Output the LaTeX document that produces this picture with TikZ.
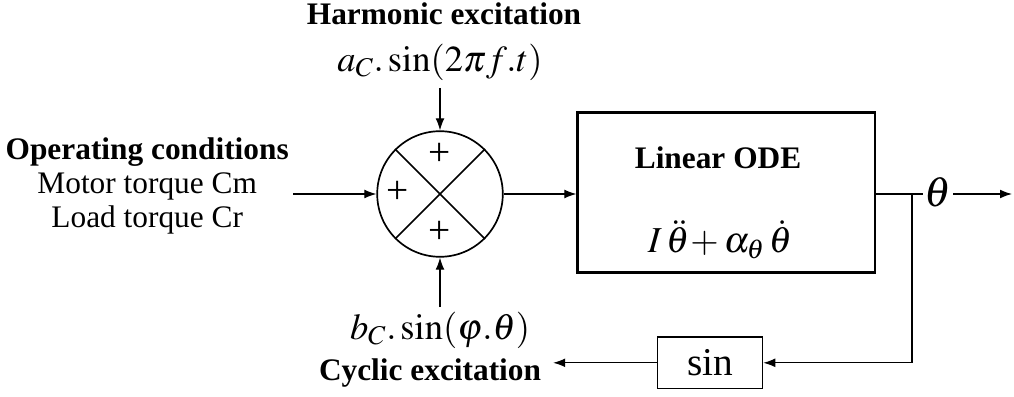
\documentclass[tikz,border=0pt]{standalone}
\usepackage{mathptmx}
\usepackage{fontspec}
\setmainfont{Liberation Serif}
\usepackage{tikz}
\usetikzlibrary{arrows.meta, positioning, calc}
\tikzset{
  txt/.style={font=\fontsize{22.3}{24.5}\selectfont, inner sep=1pt},
  boldtxt/.style={font=\fontsize{22.3}{24.5}\selectfont\bfseries, inner sep=1pt},
  mathtxt/.style={font=\fontsize{26}{28}\selectfont, inner sep=1pt},
  plus/.style={font=\fontsize{28}{30}\selectfont, inner sep=0pt},
  sig/.style={draw, line width=0.8pt, -{Latex[length=3mm, width=2.2mm]}},
}
\begin{document}
\begin{tikzpicture}
  \useasboundingbox (0,0) rectangle (25.35,9.9);
  % summing junction
  \node[draw, circle, line width=1.2pt, minimum size=3.14cm, inner sep=0pt] (sum) at (11.0,5.05) {};
  \draw[line width=1.2pt] (sum.45) -- (sum.225);
  \draw[line width=1.2pt] (sum.135) -- (sum.315);
  \node[plus] (ptop) at (11.0,6.05) {+};
  \node[plus] (pleft) at (9.95,5.1) {+};
  \node[plus] (pbot) at (11.0,4.1) {+};
  % harmonic input
  \node[boldtxt] (harm) at (11.1,9.55) {Harmonic excitation};
  \node[mathtxt] (aterm) at (11.0,8.35) {$a_{C}.\sin(2\pi f.t)$};
  \coordinate (atop) at (11.0,7.7);
  \draw[sig] (atop) -- (sum.north);
  % operating conditions
  \node[txt, align=center] (opcond) at (3.68,5.25)
    {\bfseries Operating conditions\\Motor torque Cm\\Load torque Cr};
  \coordinate (opin) at (7.33,5.05);
  \draw[sig] (opin) -- (sum.west);
  % linear ODE block
  \node[draw, line width=2pt, minimum width=7.43cm, minimum height=4cm] (ode) at (18.16,5.08) {};
  \node[boldtxt] (odetitle) at (17.95,5.95) {Linear ODE};
  \node[mathtxt] (odeeq) at (18.0,3.9) {$I\,\ddot{\theta}\!+\alpha_{\theta}\,\dot{\theta}$};
  \draw[sig] (sum.east) -- (ode.west |- sum.east);
  % output
  \node[font=\fontsize{30}{32}\selectfont, inner sep=1pt] (theta) at (23.45,5.1) {$\theta$};
  \coordinate (branch) at (22.8,5.05);
  \coordinate (out) at (25.3,5.05);
  \draw[line width=0.8pt] (ode.east |- branch) -- (theta.west |- branch);
  \draw[sig] (theta.east |- branch) -- (out);
  % feedback through sin
  \node[draw, line width=1pt, minimum width=2.63cm, minimum height=1.28cm, font=\fontsize{28}{30}\selectfont] (sinbox) at (17.75,0.83) {sin};
  \draw[sig] (branch) |- (sinbox.east);
  \coordinate (fbend) at (13.83,0.83);
  \draw[sig] (sinbox.west) -- (fbend);
  % cyclic input
  \node[mathtxt] (bterm) at (11.0,1.65) {$b_{C}.\sin(\varphi.\theta)$};
  \node[boldtxt] (cyc) at (10.75,0.58) {Cyclic excitation};
  \coordinate (bbot) at (11.0,2.22);
  \draw[sig] (bbot) -- (sum.south);
\end{tikzpicture}
\end{document}
